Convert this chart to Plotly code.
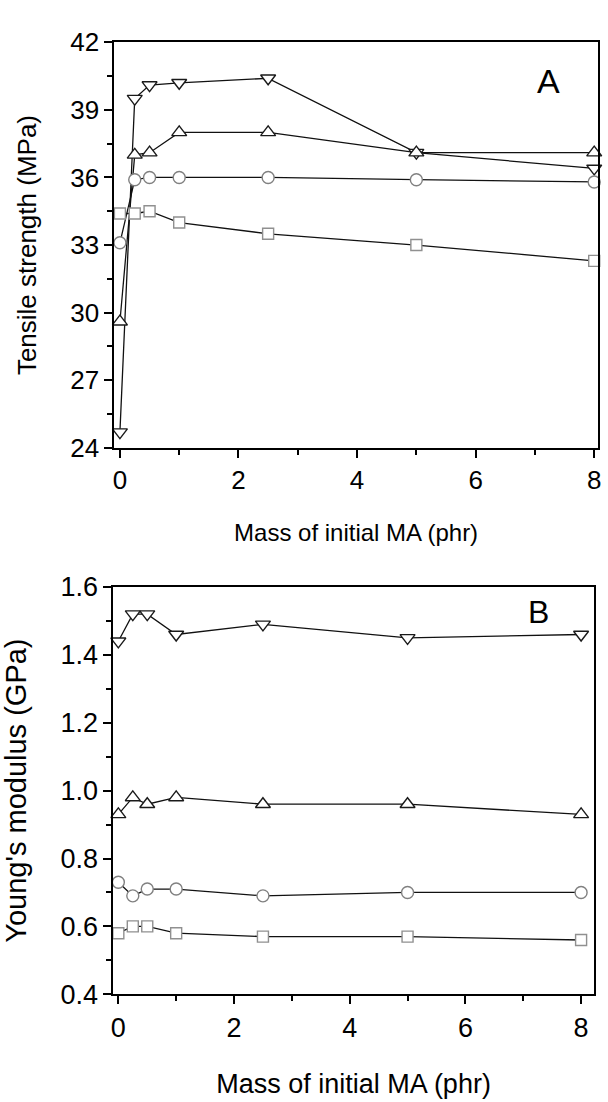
import plotly.graph_objects as go

W, H = 608, 1102

mass = [0, 0.25, 0.5, 1, 2.5, 5, 8]

# Panel A: tensile strength (MPa)
ts_down = [24.7, 39.5, 40.1, 40.2, 40.4, 37.1, 36.4]
ts_up = [29.6, 37.0, 37.1, 38.0, 38.0, 37.1, 37.1]
ts_circle = [33.1, 35.9, 36.0, 36.0, 36.0, 35.9, 35.8]
ts_square = [34.4, 34.4, 34.5, 34.0, 33.5, 33.0, 32.3]

# Panel B: Young's modulus (GPa)
ym_down = [1.44, 1.52, 1.52, 1.46, 1.49, 1.45, 1.46]
ym_up = [0.93, 0.98, 0.96, 0.98, 0.96, 0.96, 0.93]
ym_circle = [0.73, 0.69, 0.71, 0.71, 0.69, 0.70, 0.70]
ym_square = [0.58, 0.60, 0.60, 0.58, 0.57, 0.57, 0.56]

FONT = "Liberation Sans, Arial, sans-serif"

fig = go.Figure()

styles = [
    ("triangle-down", "#1a1a1a", 13),
    ("triangle-up", "#1a1a1a", 13),
    ("circle", "#808080", 12),
    ("square", "#909090", 11),
]

for xa, ya, series in [("x", "y", [ts_down, ts_up, ts_circle, ts_square]),
                       ("x2", "y2", [ym_down, ym_up, ym_circle, ym_square])]:
    for vals, (sym, mcol, msize) in zip(series, styles):
        fig.add_trace(go.Scatter(
            x=mass, y=vals, xaxis=xa, yaxis=ya, mode="lines+markers",
            line=dict(color="#111111", width=1.3),
            marker=dict(symbol=sym, size=msize, color="white",
                        line=dict(color=mcol, width=1.4)),
            showlegend=False, cliponaxis=False,
        ))

def px_x(a, b):
    return [a / W, b / W]

def px_y(top, bottom):
    return [1 - bottom / H, 1 - top / H]

axis_common = dict(
    showline=True, linecolor="black", linewidth=2, mirror=True,
    ticks="outside", ticklen=8, tickwidth=1.5, tickcolor="black",
    showgrid=False, zeroline=False,
)

fig.update_layout(
    width=W, height=H,
    margin=dict(l=0, r=0, t=0, b=0),
    paper_bgcolor="white", plot_bgcolor="white",
    font=dict(family=FONT, color="black"),
    xaxis=dict(domain=px_x(112.7, 601.7), range=[-0.093, 8.06], anchor="y",
               tickvals=[0, 2, 4, 6, 8], tickfont=dict(size=26),
               minor=dict(tickvals=[1, 3, 5, 7], ticklen=5, ticks="outside", tickcolor="black"),
               title=dict(text="Mass of initial MA (phr)", font=dict(size=24), standoff=30),
               **axis_common),
    yaxis=dict(domain=px_y(28, 445), range=[24, 42], anchor="x",
               tickvals=[24, 27, 30, 33, 36, 39, 42], tickfont=dict(size=26),
               minor=dict(tickvals=[25.5, 28.5, 31.5, 34.5, 37.5, 40.5], ticklen=5, ticks="outside", tickcolor="black"),
               title=dict(text="Tensile strength (MPa)", font=dict(size=26), standoff=26),
               **axis_common),
    xaxis2=dict(domain=px_x(111.7, 597.7), range=[-0.085, 8.22], anchor="y2",
                tickvals=[0, 2, 4, 6, 8], tickfont=dict(size=27),
                minor=dict(tickvals=[1, 3, 5, 7], ticklen=5, ticks="outside", tickcolor="black"),
                title=dict(text="Mass of initial MA (phr)", font=dict(size=27), standoff=32),
                **axis_common),
    yaxis2=dict(domain=px_y(588, 1006.7), range=[0.4, 1.6], anchor="x2",
                tickvals=[0.4, 0.6, 0.8, 1.0, 1.2, 1.4, 1.6], tickformat=".1f", tickfont=dict(size=27),
                minor=dict(tickvals=[0.5, 0.7, 0.9, 1.1, 1.3, 1.5], ticklen=5, ticks="outside", tickcolor="black"),
                title=dict(text="Young's modulus (GPa)", font=dict(size=29), standoff=26),
                **axis_common),
    annotations=[
        dict(text="A", x=552 / W, y=1 - 67.5 / H, xref="paper", yref="paper",
             showarrow=False, font=dict(size=34, family=FONT), xanchor="center", yanchor="middle"),
        dict(text="B", x=542 / W, y=1 - 613.5 / H, xref="paper", yref="paper",
             showarrow=False, font=dict(size=32, family=FONT), xanchor="center", yanchor="middle"),
    ],
)

fig.write_html("out.html")
